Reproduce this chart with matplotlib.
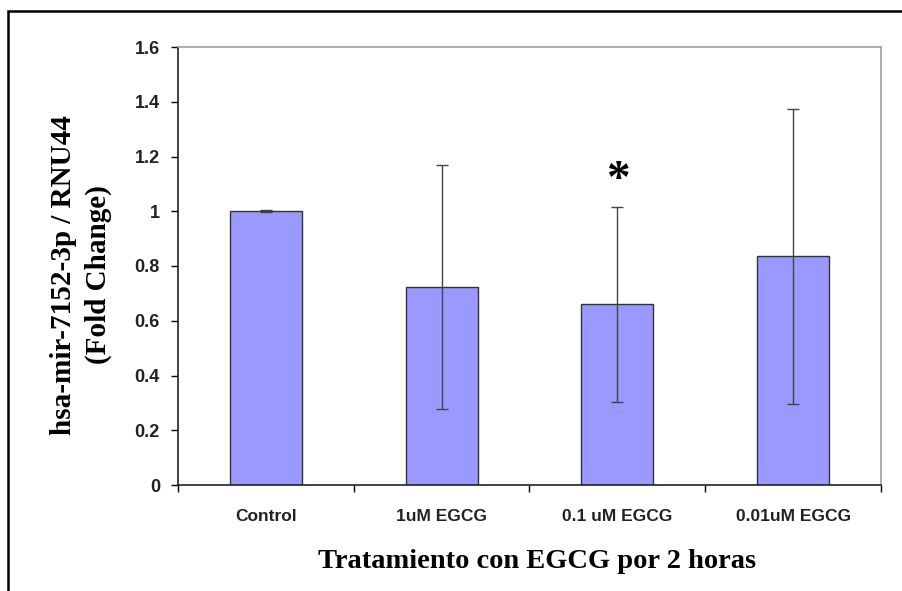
import matplotlib
matplotlib.use("Agg")
from matplotlib import pyplot as plt
from matplotlib.patches import Rectangle

# data
groups = ["Control", "1uM EGCG", "0.1 uM EGCG", "0.01uM EGCG"]
fold_change = [1.0, 0.723, 0.66, 0.835]
errors = [0.004, 0.445, 0.357, 0.540]
yticks = [0, 0.2, 0.4, 0.6, 0.8, 1.0, 1.2, 1.4, 1.6]
ytick_labels = ["0", "0.2", "0.4", "0.6", "0.8", "1", "1.2", "1.4", "1.6"]

W, H = 903, 591
fig = plt.figure(figsize=(W / 100, H / 100), dpi=100)

# outer frame (cut off at right and bottom like the reference)
fig.patches.append(Rectangle((8 / W, -0.05), 1.1, 1 - 11 / H + 0.05,
                             transform=fig.transFigure, fill=False,
                             edgecolor="black", linewidth=1.8))

ax = fig.add_axes([178 / W, 1 - 485 / H, (881 - 178) / W, (485 - 47) / H])

x = range(len(groups))
ax.bar(x, fold_change, width=0.41, color="#9999FF", edgecolor="#333333",
       linewidth=1.0, zorder=2)
ax.errorbar(x, fold_change, yerr=errors, fmt="none", ecolor="#444444",
            elinewidth=1.0, capsize=4, capthick=1.0, zorder=3)

ax.set_xlim(-0.5, len(groups) - 0.5)
ax.set_ylim(0, 1.6)
ax.set_yticks(yticks)
ax.set_yticklabels(ytick_labels, fontfamily="Liberation Sans",
                   fontweight="bold", fontsize=13, color="#222222")
ax.set_xticks(x)
ax.set_xticklabels(groups, fontfamily="Liberation Sans", fontweight="bold",
                   fontsize=12.5, color="#222222")
ax.tick_params(axis="x", length=0, pad=17)
ax.tick_params(axis="y", direction="out", length=5, width=1, pad=8)
# category boundary ticks on the x axis
ax.set_xticks([i - 0.5 for i in range(len(groups) + 1)], minor=True)
ax.tick_params(axis="x", which="minor", direction="out", length=5, width=1)

for side in ["top", "right"]:
    ax.spines[side].set_color("#a0a0a0")
    ax.spines[side].set_linewidth(1.2)
for side in ["left", "bottom"]:
    ax.spines[side].set_color("#222222")
    ax.spines[side].set_linewidth(1.2)

ax.text(2, 1.11, "*", ha="center", va="center", fontsize=34,
        fontfamily="Liberation Serif", fontweight="bold", color="black")

fig.text(81 / W, 1 - 275 / H, "hsa-mir-7152-3p / RNU44\n(Fold Change)",
         rotation=90, ha="center", va="center", fontfamily="Liberation Serif",
         fontweight="bold", fontsize=21, linespacing=1.35)
fig.text(537 / W, 1 - 561 / H, "Tratamiento con EGCG por 2 horas",
         ha="center", va="center", fontfamily="Liberation Serif",
         fontweight="bold", fontsize=20.5)

fig.savefig("out.png", dpi=100)
